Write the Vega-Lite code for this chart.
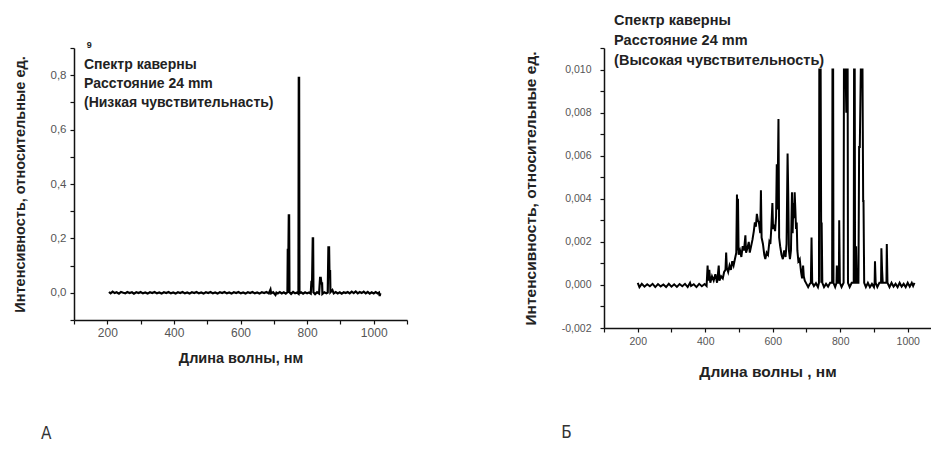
{
  "$schema": "https://vega.github.io/schema/vega-lite/v6.json",
  "padding": {"left": 12, "top": 12, "right": 0, "bottom": 8},
  "bounds": "flush",
  "spacing": 197,
  "background": "white",
  "config": {
    "view": {"stroke": null},
    "font": "Liberation Sans",
    "axis": {
      "grid": false,
      "domainColor": "#111",
      "domainWidth": 1.5,
      "tickColor": "#111",
      "tickWidth": 1.2,
      "tickSize": 4,
      "tickCount": 100,
      "labelColor": "#555",
      "labelFont": "Liberation Sans",
      "labelOverlap": false,
      "labelFlush": false,
      "titleColor": "#222",
      "titleFont": "Liberation Sans",
      "titleFontWeight": "bold"
    }
  },
  "datasets": {
    "low": [
      {"w": 205, "i": 0.003}, {"w": 210, "i": -0.002}, {"w": 216, "i": 0.004}, {"w": 222, "i": -0.001}, {"w": 228, "i": 0.002},
      {"w": 235, "i": -0.003}, {"w": 241, "i": 0.003}, {"w": 248, "i": 0}, {"w": 254, "i": -0.002}, {"w": 260, "i": 0.003},
      {"w": 267, "i": -0.001}, {"w": 274, "i": 0.002}, {"w": 280, "i": -0.003}, {"w": 287, "i": 0.002}, {"w": 294, "i": -0.001},
      {"w": 300, "i": 0.003}, {"w": 307, "i": -0.002}, {"w": 314, "i": 0.001}, {"w": 321, "i": -0.003}, {"w": 328, "i": 0.002},
      {"w": 335, "i": -0.001}, {"w": 342, "i": 0.003}, {"w": 349, "i": -0.002}, {"w": 356, "i": 0.001}, {"w": 363, "i": -0.003},
      {"w": 370, "i": 0.002}, {"w": 377, "i": -0.001}, {"w": 384, "i": 0.003}, {"w": 391, "i": -0.002}, {"w": 398, "i": 0.001},
      {"w": 405, "i": -0.003}, {"w": 412, "i": 0.002}, {"w": 419, "i": -0.001}, {"w": 426, "i": 0.003}, {"w": 433, "i": -0.002},
      {"w": 440, "i": 0.001}, {"w": 447, "i": -0.003}, {"w": 454, "i": 0.002}, {"w": 461, "i": -0.001}, {"w": 468, "i": 0.003},
      {"w": 475, "i": -0.002}, {"w": 482, "i": 0.001}, {"w": 489, "i": -0.003}, {"w": 496, "i": 0.002}, {"w": 503, "i": -0.001},
      {"w": 510, "i": 0.003}, {"w": 517, "i": -0.002}, {"w": 524, "i": 0.001}, {"w": 531, "i": -0.003}, {"w": 538, "i": 0.002},
      {"w": 545, "i": -0.001}, {"w": 552, "i": 0.003}, {"w": 559, "i": -0.002}, {"w": 566, "i": 0.001}, {"w": 573, "i": -0.003},
      {"w": 580, "i": 0.002}, {"w": 587, "i": -0.001}, {"w": 594, "i": 0.003}, {"w": 601, "i": -0.002}, {"w": 608, "i": 0.001},
      {"w": 615, "i": -0.003}, {"w": 622, "i": 0.002}, {"w": 629, "i": -0.001}, {"w": 636, "i": 0.003}, {"w": 643, "i": -0.002},
      {"w": 650, "i": 0.001}, {"w": 657, "i": -0.003}, {"w": 664, "i": 0.002}, {"w": 671, "i": -0.001}, {"w": 678, "i": 0.003},
      {"w": 685, "i": -0.002}, {"w": 690, "i": 0.012}, {"w": 692, "i": -0.002}, {"w": 698, "i": 0.002}, {"w": 705, "i": -0.008},
      {"w": 708, "i": 0.001}, {"w": 712, "i": -0.002}, {"w": 718, "i": 0.003}, {"w": 724, "i": -0.002}, {"w": 730, "i": 0.002},
      {"w": 736, "i": -0.003}, {"w": 741, "i": 0.002}, {"w": 742, "i": 0.158}, {"w": 744, "i": 0.158}, {"w": 745, "i": 0.285},
      {"w": 746, "i": 0.285}, {"w": 747, "i": 0.002}, {"w": 752, "i": -0.004}, {"w": 758, "i": 0.003}, {"w": 764, "i": -0.002},
      {"w": 770, "i": 0.001}, {"w": 774, "i": -0.003}, {"w": 775, "i": 0.79}, {"w": 776, "i": 0.79}, {"w": 777, "i": -0.002},
      {"w": 782, "i": 0.002}, {"w": 788, "i": -0.003}, {"w": 794, "i": 0.002}, {"w": 800, "i": -0.002}, {"w": 806, "i": 0.001},
      {"w": 811, "i": -0.003}, {"w": 813, "i": 0.04}, {"w": 815, "i": 0.04}, {"w": 817, "i": 0.2}, {"w": 818, "i": 0.2},
      {"w": 819, "i": 0.002}, {"w": 824, "i": -0.005}, {"w": 830, "i": 0.002}, {"w": 836, "i": -0.003}, {"w": 839, "i": 0.055},
      {"w": 841, "i": 0.055}, {"w": 843, "i": 0.035}, {"w": 845, "i": 0.035}, {"w": 846, "i": -0.004}, {"w": 852, "i": 0.002},
      {"w": 858, "i": -0.002}, {"w": 862, "i": 0.001}, {"w": 864, "i": 0.167}, {"w": 866, "i": 0.167}, {"w": 867, "i": 0.08},
      {"w": 869, "i": 0.08}, {"w": 870, "i": 0.002}, {"w": 876, "i": 0.01}, {"w": 880, "i": -0.002}, {"w": 886, "i": 0.003},
      {"w": 892, "i": -0.002}, {"w": 898, "i": 0.002}, {"w": 904, "i": -0.003}, {"w": 910, "i": 0.002}, {"w": 916, "i": -0.001},
      {"w": 922, "i": 0.003}, {"w": 928, "i": -0.002}, {"w": 934, "i": 0.004}, {"w": 940, "i": -0.001}, {"w": 946, "i": 0.005},
      {"w": 952, "i": -0.002}, {"w": 958, "i": 0.003}, {"w": 964, "i": -0.001}, {"w": 970, "i": 0.004}, {"w": 976, "i": -0.002},
      {"w": 982, "i": 0.003}, {"w": 988, "i": -0.003}, {"w": 994, "i": 0.002}, {"w": 1000, "i": -0.002}, {"w": 1006, "i": 0.003},
      {"w": 1012, "i": -0.002}, {"w": 1016, "i": 0.001}, {"w": 1018, "i": -0.012}, {"w": 1020, "i": -0.002}
    ],
    "high": [
      {"w": 200, "i": 0.0001}, {"w": 205, "i": -0.0001}, {"w": 212, "i": 0.00005}, {"w": 220, "i": -0.00008}, {"w": 228, "i": 0.00003},
      {"w": 236, "i": -0.00006}, {"w": 244, "i": 0.00005}, {"w": 252, "i": -0.0001}, {"w": 260, "i": 0.00004}, {"w": 268, "i": -0.00007},
      {"w": 276, "i": 0.00002}, {"w": 284, "i": -0.0001}, {"w": 292, "i": 0.00005}, {"w": 300, "i": -0.00008}, {"w": 308, "i": 0.00003},
      {"w": 316, "i": -0.00009}, {"w": 324, "i": 0.00004}, {"w": 332, "i": -0.00006}, {"w": 340, "i": 0.00005}, {"w": 348, "i": -0.0001},
      {"w": 355, "i": 0.0001}, {"w": 358, "i": -0.00005}, {"w": 366, "i": 0.00003}, {"w": 374, "i": -0.0001}, {"w": 382, "i": 0.00005},
      {"w": 390, "i": -0.00006}, {"w": 398, "i": 0.00004}, {"w": 404, "i": -0.00005}, {"w": 407, "i": 0.0009}, {"w": 409, "i": 0.0002},
      {"w": 412, "i": 0.0007}, {"w": 415, "i": 0.0001}, {"w": 420, "i": 0.0004}, {"w": 425, "i": 0.0002}, {"w": 430, "i": 0.0005},
      {"w": 435, "i": 0.0001}, {"w": 440, "i": 0.0009}, {"w": 442, "i": 0.0002}, {"w": 447, "i": 0.0004}, {"w": 452, "i": 0.0003},
      {"w": 456, "i": 0.0006}, {"w": 460, "i": 0.0007}, {"w": 462, "i": 0.0015}, {"w": 464, "i": 0.0008}, {"w": 468, "i": 0.0006},
      {"w": 472, "i": 0.0009}, {"w": 476, "i": 0.0007}, {"w": 480, "i": 0.0011}, {"w": 484, "i": 0.0009}, {"w": 488, "i": 0.0012},
      {"w": 492, "i": 0.0015}, {"w": 494, "i": 0.0042}, {"w": 496, "i": 0.0016}, {"w": 497, "i": 0.004}, {"w": 499, "i": 0.0014},
      {"w": 503, "i": 0.0016}, {"w": 507, "i": 0.0013}, {"w": 511, "i": 0.0018}, {"w": 515, "i": 0.0016}, {"w": 519, "i": 0.0023},
      {"w": 521, "i": 0.0015}, {"w": 525, "i": 0.0017}, {"w": 529, "i": 0.002}, {"w": 532, "i": 0.0015}, {"w": 536, "i": 0.0018},
      {"w": 540, "i": 0.0021}, {"w": 544, "i": 0.0025}, {"w": 547, "i": 0.0029}, {"w": 550, "i": 0.0027}, {"w": 553, "i": 0.0033},
      {"w": 556, "i": 0.003}, {"w": 559, "i": 0.0029}, {"w": 563, "i": 0.0024}, {"w": 565, "i": 0.0044}, {"w": 567, "i": 0.0022},
      {"w": 571, "i": 0.0019}, {"w": 575, "i": 0.0014}, {"w": 578, "i": 0.0012}, {"w": 582, "i": 0.0015}, {"w": 586, "i": 0.0014},
      {"w": 590, "i": 0.002}, {"w": 593, "i": 0.0019}, {"w": 596, "i": 0.0027}, {"w": 599, "i": 0.0038}, {"w": 601, "i": 0.0026},
      {"w": 604, "i": 0.0028}, {"w": 607, "i": 0.0025}, {"w": 610, "i": 0.0032}, {"w": 612, "i": 0.0056}, {"w": 614, "i": 0.0035},
      {"w": 617, "i": 0.0077}, {"w": 619, "i": 0.0022}, {"w": 622, "i": 0.0018}, {"w": 626, "i": 0.0014}, {"w": 630, "i": 0.0012},
      {"w": 634, "i": 0.0016}, {"w": 638, "i": 0.0013}, {"w": 641, "i": 0.0019}, {"w": 644, "i": 0.0061}, {"w": 646, "i": 0.0042},
      {"w": 648, "i": 0.0016}, {"w": 651, "i": 0.0012}, {"w": 654, "i": 0.0016}, {"w": 657, "i": 0.0043}, {"w": 659, "i": 0.0024},
      {"w": 661, "i": 0.0038}, {"w": 663, "i": 0.0031}, {"w": 665, "i": 0.0043}, {"w": 667, "i": 0.0035}, {"w": 669, "i": 0.0026},
      {"w": 671, "i": 0.0029}, {"w": 673, "i": 0.0016}, {"w": 676, "i": 0.0011}, {"w": 680, "i": 0.0012}, {"w": 684, "i": 0.0006},
      {"w": 687, "i": 0.0003}, {"w": 690, "i": 0.0009}, {"w": 692, "i": 0.0004}, {"w": 695, "i": 0.0002}, {"w": 700, "i": 0.00005},
      {"w": 705, "i": -0.0001}, {"w": 710, "i": 0.00005}, {"w": 713, "i": 0.0001}, {"w": 715, "i": 0.0022}, {"w": 717, "i": 0.0001},
      {"w": 722, "i": -0.00005}, {"w": 728, "i": 0.00008}, {"w": 734, "i": -0.0001}, {"w": 737, "i": 0.0001}, {"w": 738, "i": 0.01},
      {"w": 742, "i": 0.01}, {"w": 744, "i": 0.0001}, {"w": 745, "i": 0.0029}, {"w": 747, "i": 0.0001}, {"w": 752, "i": -0.0001},
      {"w": 758, "i": 0.00005}, {"w": 764, "i": -0.00008}, {"w": 770, "i": 0.0001}, {"w": 776, "i": 0.0001}, {"w": 777, "i": 0.01},
      {"w": 779, "i": 0.01}, {"w": 780, "i": 0.0001}, {"w": 785, "i": -0.0001}, {"w": 789, "i": 0.0001}, {"w": 790, "i": 0.0009},
      {"w": 792, "i": 0.0001}, {"w": 796, "i": 0.0001}, {"w": 797, "i": 0.003}, {"w": 799, "i": 0.0001}, {"w": 804, "i": -0.0001},
      {"w": 810, "i": 0.0001}, {"w": 811, "i": 0.01}, {"w": 816, "i": 0.01}, {"w": 818, "i": 0.008}, {"w": 820, "i": 0.01},
      {"w": 822, "i": 0.01}, {"w": 823, "i": 0.0001}, {"w": 828, "i": -0.0001}, {"w": 834, "i": 0.0001}, {"w": 840, "i": 0.0001},
      {"w": 841, "i": 0.01}, {"w": 843, "i": 0.01}, {"w": 844, "i": 0.0001}, {"w": 846, "i": 0.0001}, {"w": 847, "i": 0.0018},
      {"w": 849, "i": 0.0001}, {"w": 854, "i": 0.0001}, {"w": 856, "i": 0.0064}, {"w": 858, "i": 0.0064}, {"w": 861, "i": 0.01},
      {"w": 866, "i": 0.01}, {"w": 868, "i": 0.0039}, {"w": 869, "i": 0.0039}, {"w": 871, "i": 0.0001}, {"w": 876, "i": -0.0001},
      {"w": 882, "i": 0.0001}, {"w": 888, "i": -0.0001}, {"w": 894, "i": 0.00005}, {"w": 900, "i": -0.0001}, {"w": 902, "i": 0.0001},
      {"w": 903, "i": 0.0011}, {"w": 905, "i": 0.0001}, {"w": 910, "i": -0.0001}, {"w": 916, "i": 0.0001}, {"w": 921, "i": 0.0001},
      {"w": 922, "i": 0.0017}, {"w": 924, "i": 0.0007}, {"w": 926, "i": 0.0001}, {"w": 930, "i": 0.0001}, {"w": 937, "i": 0.0001},
      {"w": 938, "i": 0.0019}, {"w": 940, "i": 0.0001}, {"w": 946, "i": -0.0001}, {"w": 952, "i": 0.0001}, {"w": 958, "i": -0.00008},
      {"w": 964, "i": 0.00005}, {"w": 970, "i": -0.0001}, {"w": 976, "i": 0.0001}, {"w": 982, "i": -0.00008}, {"w": 988, "i": 0.00005},
      {"w": 994, "i": -0.0001}, {"w": 1000, "i": 0.0001}, {"w": 1006, "i": -0.00008}, {"w": 1012, "i": 0.0001}, {"w": 1016, "i": -0.00005},
      {"w": 1020, "i": 0.0001}
    ]
  },
  "hconcat": [
    {
      "width": 333,
      "height": 272,
      "title": {"text": "А", "orient": "bottom", "anchor": "start", "frame": "bounds", "offset": 61, "dx": 29, "fontSize": 17, "fontWeight": "normal", "font": "DejaVu Sans Condensed", "color": "#333"},
      "layer": [
        {
          "data": {"name": "low"},
          "mark": {"type": "line", "color": "#000", "strokeWidth": 2.2},
          "encoding": {
            "x": {
              "field": "w", "type": "quantitative",
              "scale": {"domain": [100, 1100], "nice": false, "zero": false},
              "axis": {
                "values": [100, 200, 300, 400, 500, 600, 700, 800, 900, 1000, 1100],
                "labelExpr": "datum.value % 200 == 0 ? '' + abs(datum.value) : ''",
                "labelFontSize": 12, "labelPadding": 3,
                "title": "Длина волны, нм", "titleFontSize": 14.5, "titlePadding": 13
              }
            },
            "y": {
              "field": "i", "type": "quantitative",
              "scale": {"domain": [-0.1, 0.9], "nice": false, "zero": false},
              "axis": {
                "values": [-0.1, 0, 0.1, 0.2, 0.3, 0.4, 0.5, 0.6, 0.7, 0.8, 0.9],
                "labelExpr": "round(datum.value * 10) % 2 != 0 ? '' : replace(format(abs(datum.value), '.1f'), '.', ',')",
                "labelFontSize": 11.5, "labelPadding": 4,
                "title": "Интенсивность, относительные ед.", "titleFontSize": 14.5, "titlePadding": 23
              }
            }
          }
        },
        {
          "data": {"values": [{}]},
          "mark": {"type": "text", "text": ["Спектр каверны", "Расстояние 24 mm", "(Низкая чувствительнасть)"], "align": "left", "baseline": "top", "lineHeight": 19, "fontSize": 14, "fontWeight": "bold", "color": "#222"},
          "encoding": {"x": {"datum": 130, "type": "quantitative"}, "y": {"datum": 0.862, "type": "quantitative"}}
        },
        {
          "data": {"values": [{}]},
          "mark": {"type": "text", "text": "9", "align": "left", "baseline": "middle", "fontSize": 9, "fontWeight": "bold", "color": "#222"},
          "encoding": {"x": {"datum": 138, "type": "quantitative"}, "y": {"datum": 0.911, "type": "quantitative"}}
        }
      ]
    },
    {
      "width": 327,
      "height": 280,
      "title": {"text": "Б", "orient": "bottom", "anchor": "start", "frame": "bounds", "offset": 45, "dx": 38, "fontSize": 17, "fontWeight": "normal", "font": "DejaVu Sans Condensed", "color": "#333"},
      "layer": [
        {
          "data": {"name": "high"},
          "mark": {"type": "line", "color": "#000", "strokeWidth": 2},
          "encoding": {
            "x": {
              "field": "w", "type": "quantitative",
              "scale": {"domain": [100, 1069], "nice": false, "zero": false},
              "axis": {
                "values": [100, 200, 300, 400, 500, 600, 700, 800, 900, 1000],
                "labelExpr": "datum.value % 200 == 0 ? '' + abs(datum.value) : ''",
                "labelFontSize": 10.5, "labelPadding": 4,
                "title": "Длина волны , нм", "titleFontSize": 15.5, "titlePadding": 18
              }
            },
            "y": {
              "field": "i", "type": "quantitative",
              "scale": {"domain": [-0.002, 0.011], "nice": false, "zero": false},
              "axis": {
                "values": [-0.002, -0.001, 0, 0.001, 0.002, 0.003, 0.004, 0.005, 0.006, 0.007, 0.008, 0.009, 0.01, 0.011],
                "labelExpr": "round(datum.value * 1000) % 2 != 0 ? '' : (datum.value < 0 ? '-' : '') + replace(format(abs(datum.value), '.3f'), '.', ',')",
                "labelFontSize": 10.5, "labelPadding": 9,
                "title": "Интенсивность, относительные ед.", "titleFontSize": 15.5, "titlePadding": 23
              }
            }
          }
        },
        {
          "data": {"values": [{}]},
          "mark": {"type": "text", "text": ["Спектр каверны", "Расстояние  24 mm", "(Высокая чувствительность)"], "align": "left", "baseline": "top", "lineHeight": 20, "fontSize": 14.5, "fontWeight": "bold", "color": "#222"},
          "encoding": {"x": {"datum": 130, "type": "quantitative"}, "y": {"datum": 0.01258, "type": "quantitative"}}
        }
      ]
    }
  ]
}
